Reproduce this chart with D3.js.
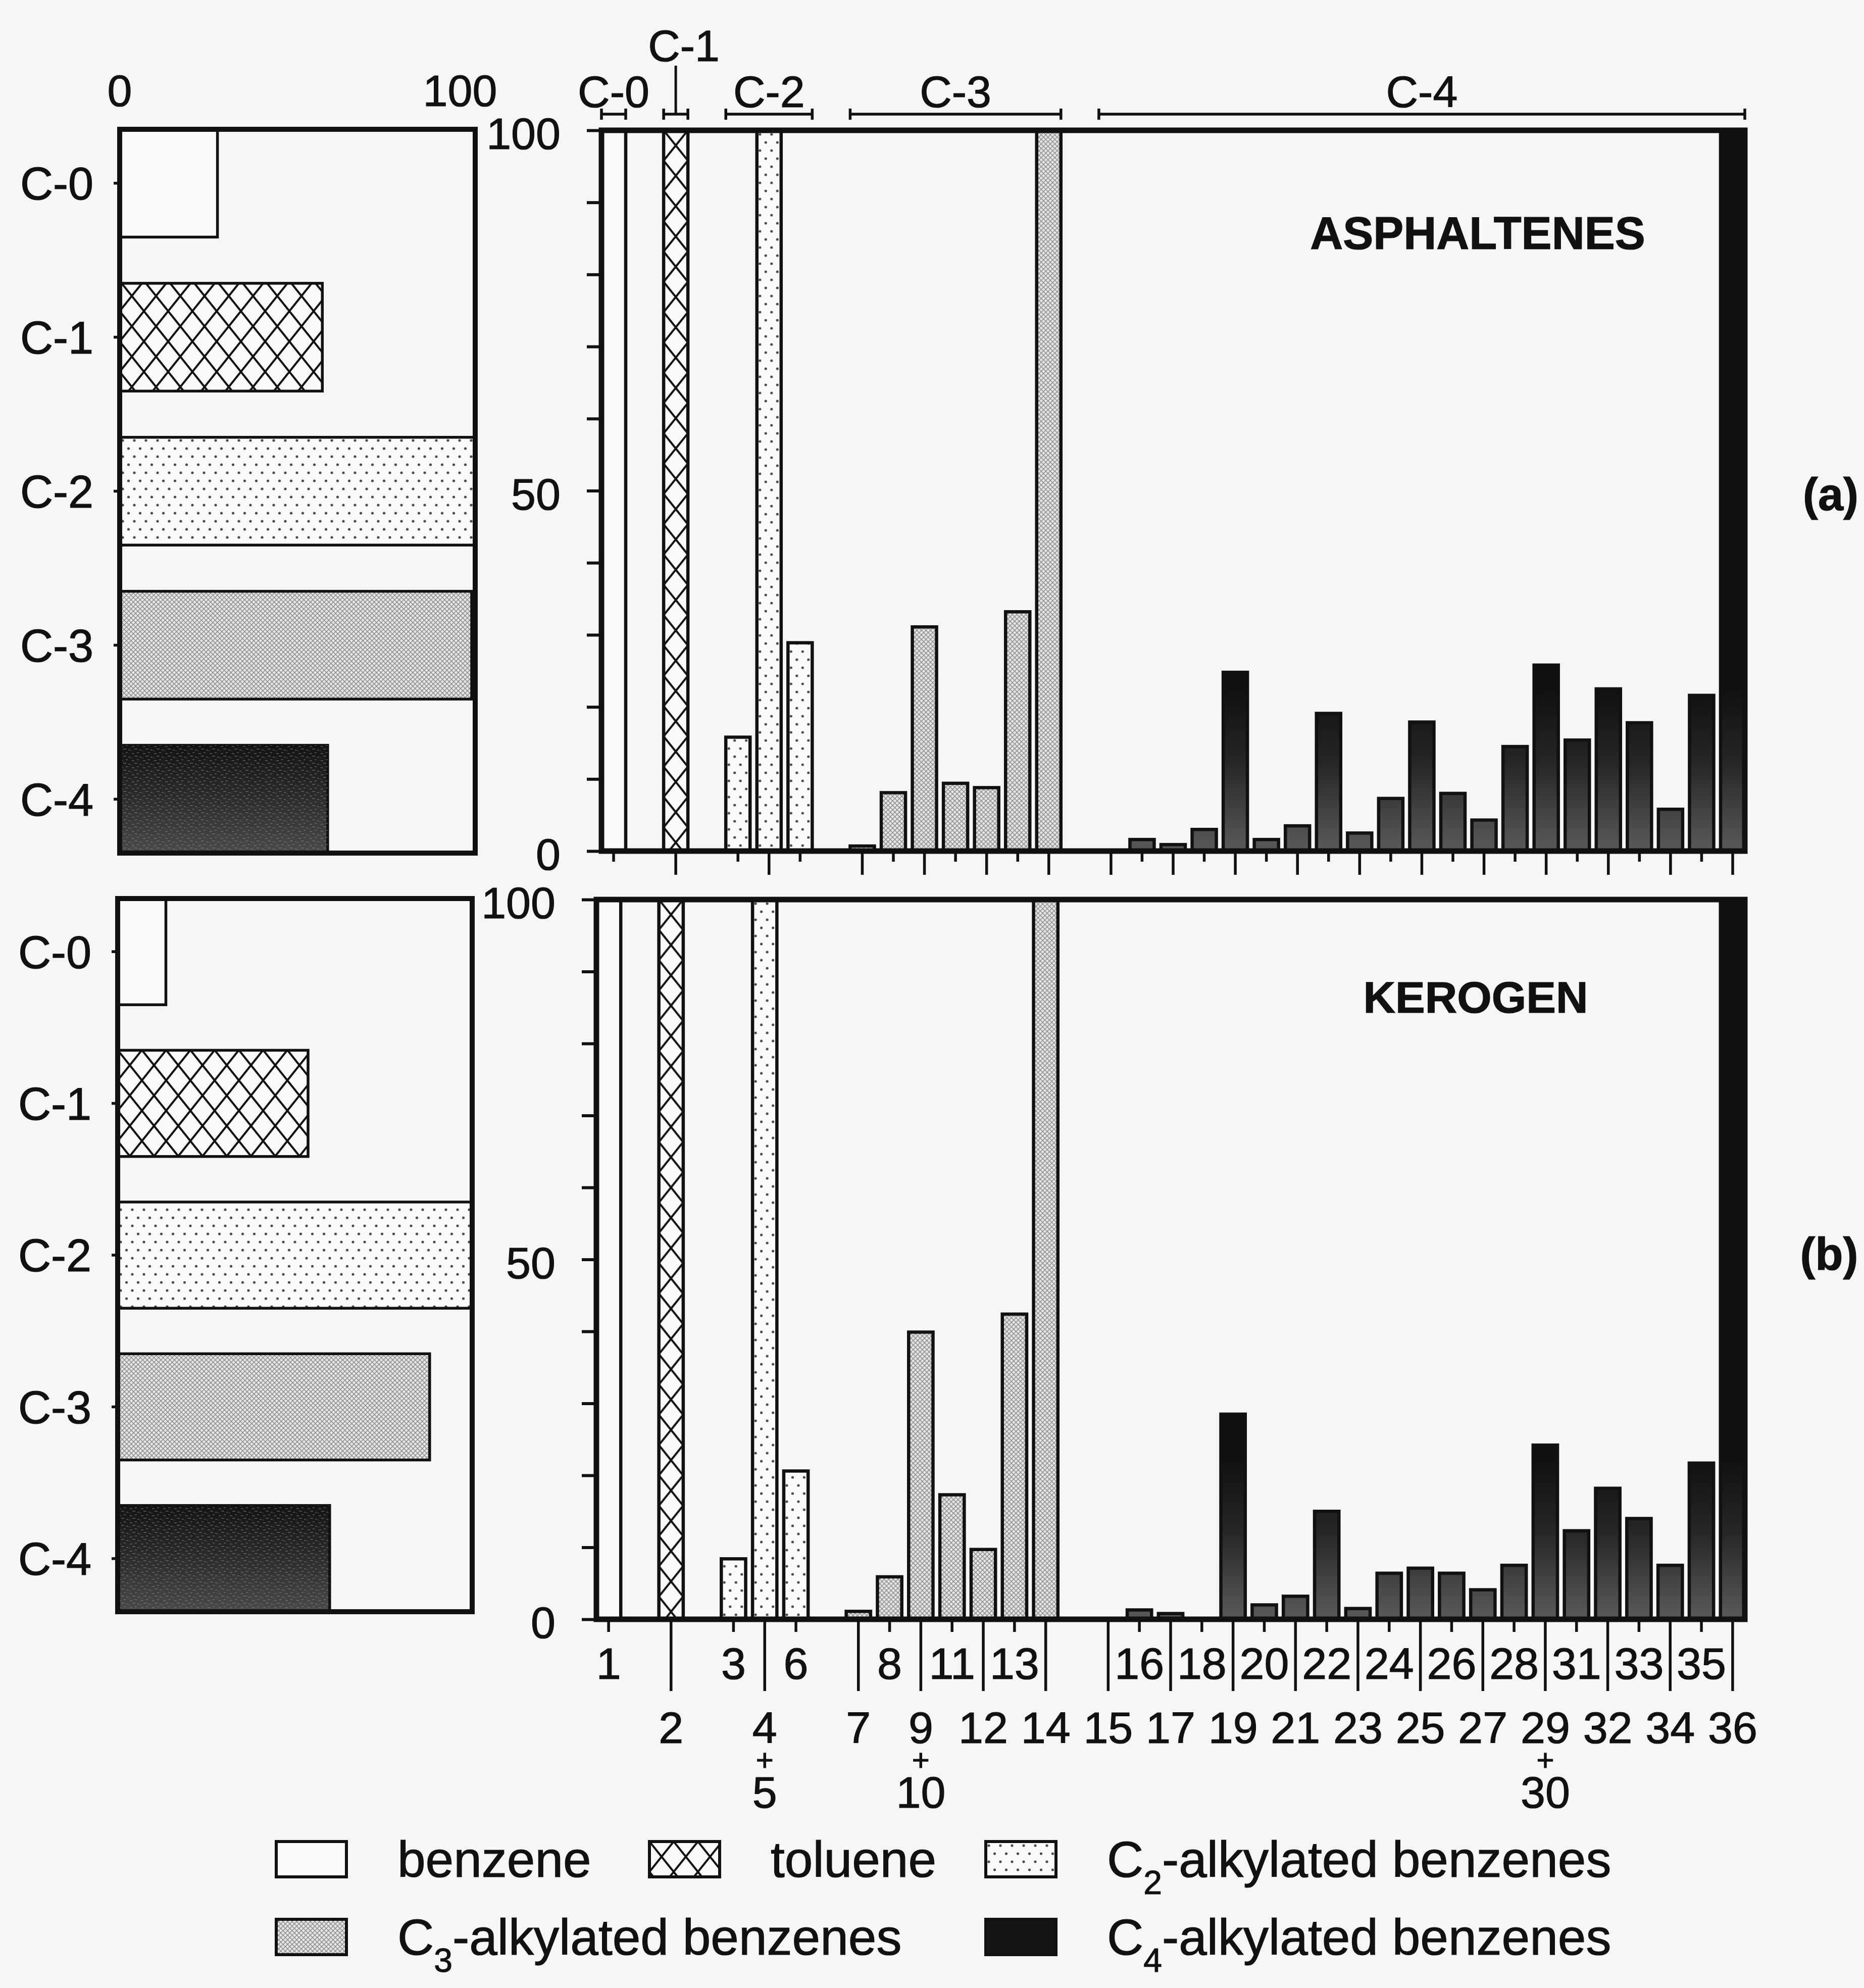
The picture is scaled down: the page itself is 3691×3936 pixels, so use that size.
<!DOCTYPE html>
<html>
<head>
<meta charset="utf-8">
<script src="https://cdn.jsdelivr.net/npm/d3@7"></script>
<style>
  body { margin: 0; background: #f6f6f6; }
  text { font-family: "Liberation Sans", Arial, Helvetica, sans-serif; fill: #111; stroke: #111; stroke-width: 1.2px; }
</style>
</head>
<body>
<div id="chart"></div>
<script>
// ---- data ----
var compounds = ["1","2","3","4+5","6","7","8","9+10","11","12","13","14",
  "15","16","17","18","19","20","21","22","23","24","25","26","27","28","29+30",
  "31","32","33","34","35","36"];
// 0 = C-0 (benzene), 1 = C-1 (toluene), 2 = C-2, 3 = C-3, 4 = C-4
var compoundGroup = [0,1,2,2,2,3,3,3,3,3,3,3,
  4,4,4,4,4,4,4, 4,4,4,4,4,4,4, 4,4,4,4,4,4,4];
// which label row the compound number sits in (0 = upper, 1 = lower)
var labelRow = [0,1,0,1,0,1,0,1,0,1,0,1,1,0,1,0,1,0,1,0,1,0,1,0,1,0,1,0,1,0,1,0,1];
var groupNames = ["C-0","C-1","C-2","C-3","C-4"];

var asphaltenes = [100,100,15.8,100,28.9,0.7,8.1,31.1,9.4,8.8,33.2,100,
  0,1.6,0.9,3.0,24.8,1.6,3.5,19.1,2.5,7.3,17.9,8.0,4.3,14.5,25.8,15.4,22.5,17.8,5.8,21.6,100];
var kerogen = [100,100,8.4,100,20.6,1.1,5.9,39.9,17.3,9.7,42.4,100,
  0,1.3,0.8,0,28.5,2.0,3.2,15.0,1.5,6.4,7.1,6.4,4.1,7.5,24.2,12.3,18.2,14.0,7.5,21.7,100];

var asphaltenesClass = [27.5, 57, 100, 99, 58.5];
var kerogenClass = [13.6, 53.7, 100, 88, 59.8];

var yTicks = [0,10,20,30,40,50,60,70,80,90,100];
var yLabels = [0,50,100];
var legendLabels = ["benzene","toluene","C_2-alkylated benzenes","C_3-alkylated benzenes","C_4-alkylated benzenes"];

// ---- setup ----
var W = 3691, H = 3936, INK = "#111";
var svg = d3.select("#chart").append("svg").attr("width", W).attr("height", H);
svg.append("rect").attr("width", W).attr("height", H).attr("fill", "#f6f6f6");
var defs = svg.append("defs");

// toluene: diamond crosshatch
var pt = defs.append("pattern").attr("id", "pat-tol").attr("patternUnits", "userSpaceOnUse")
  .attr("width", 48).attr("height", 60);
pt.append("rect").attr("width", 48).attr("height", 60).attr("fill", "#fafafa");
pt.append("path").attr("d", "M0,0L48,60M48,0L0,60").attr("stroke", INK).attr("stroke-width", 4);

// C2: sparse dots
var p2 = defs.append("pattern").attr("id", "pat-c2").attr("patternUnits", "userSpaceOnUse")
  .attr("width", 46).attr("height", 32);
p2.append("rect").attr("width", 46).attr("height", 32).attr("fill", "#fafafa");
[[6,8],[29,8],[17.5,24],[40.5,24]].forEach(function(c) {
  p2.append("circle").attr("cx", c[0]).attr("cy", c[1]).attr("r", 2.6).attr("fill", "#4a4a4a");
});

// C3: fine grey mesh
var p3 = defs.append("pattern").attr("id", "pat-c3").attr("patternUnits", "userSpaceOnUse")
  .attr("width", 9).attr("height", 9);
p3.append("rect").attr("width", 9).attr("height", 9).attr("fill", "#e6e6e6");
p3.append("path").attr("d", "M0,0L9,9M9,0L0,9").attr("stroke", "#8a8a8a").attr("stroke-width", 1.4);

// C4 (horizontal bars): dark mottled
var gh = defs.append("linearGradient").attr("id", "grad-c4h")
  .attr("x1", 0).attr("y1", 0).attr("x2", 0).attr("y2", 1);
gh.append("stop").attr("offset", 0).attr("stop-color", "#141414");
gh.append("stop").attr("offset", 0.45).attr("stop-color", "#2a2a2a");
gh.append("stop").attr("offset", 1).attr("stop-color", "#4a4a4a");
var ps = defs.append("pattern").attr("id", "pat-speck").attr("patternUnits", "userSpaceOnUse")
  .attr("width", 22).attr("height", 14);
[[2,3,5,2],[12,1,4,2],[7,8,6,2],[17,10,4,2],[0,12,3,1]].forEach(function(r) {
  ps.append("rect").attr("x", r[0]).attr("y", r[1]).attr("width", r[2]).attr("height", r[3]).attr("fill", "#8a8a8a");
});

function fillFor(grp, panelId) {
  return ["#fafafa", "url(#pat-tol)", "url(#pat-c2)", "url(#pat-c3)", "url(#grad-c4-" + panelId + ")"][grp];
}

var slots = compounds.map(function(c, i) { return i + compoundGroup[i]; });
var barHalf = 0.39;

// ---- main compound panels ----
function drawMain(values, box, id, opts) {
  var w = box.w, h = box.h;
  var g = svg.append("g").attr("transform", "translate(" + box.x + "," + box.y + ")");
  var x = d3.scaleLinear().domain([-barHalf, d3.max(slots) + barHalf]).range([0, w]);
  var y = d3.scaleLinear().domain([0, 100]).range([h, 0]);

  var gr = defs.append("linearGradient").attr("id", "grad-c4-" + id)
    .attr("gradientUnits", "userSpaceOnUse")
    .attr("x1", 0).attr("x2", 0).attr("y1", y(0)).attr("y2", y(22));
  gr.append("stop").attr("offset", 0).attr("stop-color", "#5a5a5a");
  gr.append("stop").attr("offset", 0.55).attr("stop-color", "#262626");
  gr.append("stop").attr("offset", 1).attr("stop-color", "#111");

  var data = compounds.map(function(c, i) {
    return { name: c, slot: slots[i], grp: compoundGroup[i], v: values[i], row: labelRow[i] };
  });

  // bars (each in its own group so hatch patterns start at the bar edge)
  var bars = g.selectAll(".bar").data(data.filter(function(d) { return d.v > 0; }))
    .enter().append("g").attr("class", "bar")
    .attr("transform", function(d) { return "translate(" + x(d.slot - barHalf) + ",0)"; });
  bars.append("rect")
    .attr("x", 0)
    .attr("y", function(d) { return y(d.v); })
    .attr("width", x(barHalf) - x(-barHalf))
    .attr("height", function(d) { return h - y(d.v); })
    .attr("fill", function(d) { return fillFor(d.grp, id); })
    .attr("stroke", INK).attr("stroke-width", 6.5);

  // frame
  g.append("rect").attr("width", w).attr("height", h)
    .attr("fill", "none").attr("stroke", INK).attr("stroke-width", 11);

  // y axis
  var ya = g.append("g").call(d3.axisLeft(y).tickValues(yTicks).tickSize(29).tickPadding(52)
    .tickFormat(function(d) { return yLabels.indexOf(d) >= 0 ? d : ""; }));
  ya.select(".domain").remove();
  ya.selectAll("line").attr("stroke", INK).attr("stroke-width", 6);
  ya.selectAll("text").attr("font-size", 88).attr("font-family", "Liberation Sans, Arial, sans-serif")
    .attr("fill", INK).attr("dy", "0.42em");

  // x ticks
  g.selectAll(".xtick").data(data).enter().append("line")
    .attr("x1", function(d) { return x(d.slot); })
    .attr("x2", function(d) { return x(d.slot); })
    .attr("y1", h)
    .attr("y2", function(d) { return h + (d.row ? opts.longTick : opts.shortTick); })
    .attr("stroke", INK).attr("stroke-width", 5.5);

  if (opts.labels) {
    data.forEach(function(d) {
      var parts = d.name.split("+");
      if (d.row === 0) {
        g.append("text").attr("x", x(d.slot)).attr("y", h + 118)
          .attr("text-anchor", "middle").attr("font-size", 88).text(d.name);
      } else {
        var t = g.append("text").attr("x", x(d.slot)).attr("y", h + 245)
          .attr("text-anchor", "middle").attr("font-size", 88);
        t.append("tspan").attr("x", x(d.slot)).text(parts[0]);
        if (parts.length > 1) {
          t.append("tspan").attr("x", x(d.slot)).attr("dy", 54).attr("font-size", 60).text("+");
          t.append("tspan").attr("x", x(d.slot)).attr("dy", 74).text(parts[1]);
        }
      }
    });
  }

  if (opts.brackets) {
    groupNames.forEach(function(name, gi) {
      var s = slots.filter(function(v, i) { return compoundGroup[i] === gi; });
      var x1 = x(d3.min(s) - barHalf), x2 = x(d3.max(s) + barHalf), xm = (x1 + x2) / 2;
      var by = -32;
      g.append("path")
        .attr("d", "M" + x1 + "," + (by - 11) + "V" + (by + 11) + "M" + x1 + "," + by + "H" + x2 +
                   "M" + x2 + "," + (by - 11) + "V" + (by + 11))
        .attr("fill", "none").attr("stroke", INK).attr("stroke-width", 5.5);
      if (name === "C-1") {
        g.append("line").attr("x1", xm).attr("x2", xm).attr("y1", -128).attr("y2", by)
          .attr("stroke", INK).attr("stroke-width", 5);
        g.append("text").attr("x", xm + 16).attr("y", -137).attr("text-anchor", "middle")
          .attr("font-size", 88).text(name);
      } else {
        g.append("text").attr("x", xm).attr("y", -46).attr("text-anchor", "middle")
          .attr("font-size", 88).text(name);
      }
    });
  }
}

// ---- class-distribution panels (left) ----
function drawClass(values, box, showTop) {
  var w = box.w, h = box.h;
  var g = svg.append("g").attr("transform", "translate(" + box.x + "," + box.y + ")");
  var x = d3.scaleLinear().domain([0, 100]).range([0, w]);
  var y = d3.scaleBand().domain(groupNames).range([0, h]).paddingInner(0.3).paddingOuter(0);
  var fills = ["#fafafa", "url(#pat-tol)", "url(#pat-c2)", "url(#pat-c3)", "url(#grad-c4h)"];

  g.selectAll(".cbar").data(values).enter().append("rect")
    .attr("x", 0)
    .attr("y", function(d, i) { return y(groupNames[i]); })
    .attr("width", function(d) { return x(d); })
    .attr("height", y.bandwidth())
    .attr("fill", function(d, i) { return fills[i]; })
    .attr("stroke", INK).attr("stroke-width", 5.5);
  g.append("rect")
    .attr("y", y("C-4")).attr("width", x(values[4])).attr("height", y.bandwidth())
    .attr("fill", "url(#pat-speck)").attr("opacity", 0.45);

  g.append("rect").attr("width", w).attr("height", h)
    .attr("fill", "none").attr("stroke", INK).attr("stroke-width", 10);

  var ya = g.append("g").call(d3.axisLeft(y).tickSize(12).tickPadding(40));
  ya.select(".domain").remove();
  ya.selectAll("line").attr("stroke", INK).attr("stroke-width", 5.5);
  ya.selectAll("text").attr("font-size", 90).attr("font-family", "Liberation Sans, Arial, sans-serif")
    .attr("fill", INK).attr("dy", "0.36em");

  if (showTop) {
    g.append("text").attr("x", x(0)).attr("y", -46).attr("text-anchor", "middle")
      .attr("font-size", 88).text("0");
    g.append("text").attr("x", x(100) - 30).attr("y", -46).attr("text-anchor", "middle")
      .attr("font-size", 88).text("100");
  }
}

drawClass(asphaltenesClass, { x: 237, y: 256, w: 704, h: 1433 }, true);
drawClass(kerogenClass, { x: 233, y: 1779, w: 702, h: 1412 }, false);
drawMain(asphaltenes, { x: 1191, y: 258, w: 2264, h: 1427 }, "a",
  { shortTick: 21, longTick: 47, labels: false, brackets: true });
drawMain(kerogen, { x: 1181, y: 1781, w: 2274, h: 1425 }, "b",
  { shortTick: 25, longTick: 142, labels: true, brackets: false });

// panel titles
svg.append("text").attr("x", 2926).attr("y", 493).attr("text-anchor", "middle")
  .attr("font-size", 90).attr("font-weight", "bold").text("ASPHALTENES");
svg.append("text").attr("x", 2922).attr("y", 2005).attr("text-anchor", "middle")
  .attr("font-size", 88).attr("font-weight", "bold").text("KEROGEN");
svg.append("text").attr("x", 3625).attr("y", 1010).attr("text-anchor", "middle")
  .attr("font-size", 90).attr("font-weight", "bold").text("(a)");
svg.append("text").attr("x", 3622).attr("y", 2514).attr("text-anchor", "middle")
  .attr("font-size", 90).attr("font-weight", "bold").text("(b)");

// ---- legend ----
var legendPos = [[547, 3646], [1286, 3646], [1952, 3646], [547, 3800], [1952, 3800]];
var legendFill = ["#fafafa", "url(#pat-tol)", "url(#pat-c2)", "url(#pat-c3)", "#151515"];
legendLabels.forEach(function(lbl, i) {
  var lg = svg.append("g").attr("transform", "translate(" + legendPos[i][0] + "," + legendPos[i][1] + ")");
  lg.append("rect").attr("width", 139).attr("height", 70)
    .attr("fill", legendFill[i]).attr("stroke", INK).attr("stroke-width", 6);
  var t = lg.append("text").attr("x", 240).attr("y", 70).attr("font-size", 100);
  var m = lbl.match(/^(.*)_(\d)(.*)$/);
  if (m) {
    t.append("tspan").text(m[1]);
    t.append("tspan").attr("font-size", 66).attr("dy", 34).text(m[2]);
    t.append("tspan").attr("dy", -34).text(m[3]);
  } else {
    t.text(lbl);
  }
});
</script>
</body>
</html>
